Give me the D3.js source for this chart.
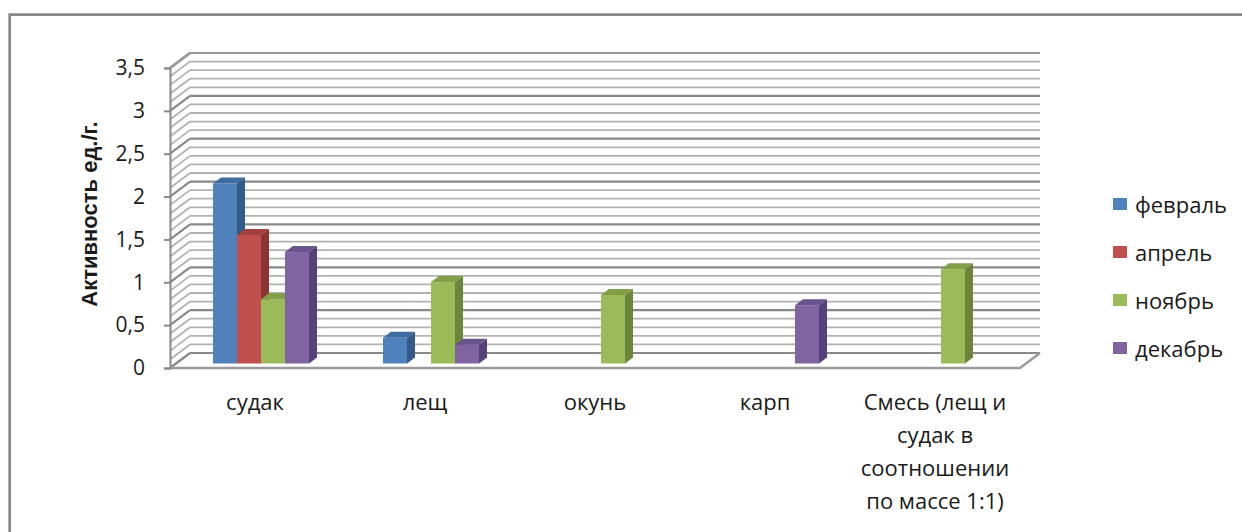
<!DOCTYPE html>
<html>
<head>
<meta charset="utf-8">
<script src="https://cdn.jsdelivr.net/npm/d3@7/dist/d3.min.js"></script>
<style>
  html, body { margin: 0; padding: 0; background: #fff; }
  svg { display: block; font-family: "Open Sans", "Noto Sans", sans-serif; }
</style>
</head>
<body>
<svg id="chart" width="1242" height="532"></svg>
<script>
// ---------- data ----------
const categories = ["судак", "лещ", "окунь", "карп", "Смесь (лещ и судак в соотношении по массе 1:1)"];
const seriesNames = ["февраль", "апрель", "ноябрь", "декабрь"];
const february = [2.1, 0.3, 0, 0, 0];
const april    = [1.5, 0, 0, 0, 0];
const november = [0.75, 0.95, 0.8, 0, 1.1];
const december = [1.3, 0.22, 0, 0.68, 0];
const yTicks = [0, 0.5, 1, 1.5, 2, 2.5, 3, 3.5];
const yTitle = "Активность ед./г.";

const seriesValues = [february, april, november, december];
const frontColors = ["#4F81BD", "#C0504D", "#9BBB59", "#8064A2"];
const sideColors  = ["#335A89", "#8A3533", "#6B853A", "#56427A"];
const topColors   = ["#3E6BA0", "#A2403E", "#809F47", "#6A528C"];

// ---------- geometry ----------
const svg = d3.select("#chart");
const X0 = 170, X1 = 1020, Y0 = 368, Y1 = 68;
const DX = 20, DY = -15;           // wall depth
const BDX = 6, BDY = -4.5;         // bar front face depth offset
const SDX = 8, SDY = -6;           // bar depth

const x = d3.scaleBand().domain(categories).range([X0, X1]).paddingInner(0).paddingOuter(0);
const groupW = 96;
const xi = d3.scaleBand().domain(seriesNames).range([0, groupW]);
const y = d3.scaleLinear().domain([0, 3.5]).range([Y0, Y1]);
const yBack = v => y(v) + DY;

// border
svg.append("path")
  .attr("d", "M9.7,532 V14.7 H1242")
  .attr("fill", "none").attr("stroke", "#878787").attr("stroke-width", 2.7);

// gridlines (minor every 0.1, major every 0.5)
const gridVals = d3.range(0, 36).map(k => k / 10);
const grid = svg.append("g");
gridVals.forEach((v, k) => {
  const major = k % 5 === 0;
  const col = major ? "#888888" : "#b2b2b2";
  const w = major ? 2.2 : 1.8;
  grid.append("line")
    .attr("x1", X0 + DX).attr("x2", X1 + DX)
    .attr("y1", yBack(v)).attr("y2", yBack(v))
    .attr("stroke", col).attr("stroke-width", w);
  grid.append("line")
    .attr("x1", X0).attr("y1", y(v))
    .attr("x2", X0 + DX).attr("y2", yBack(v))
    .attr("stroke", col).attr("stroke-width", w);
});
// top edge of walls
grid.append("line")
  .attr("x1", X0 + DX).attr("x2", X1 + DX)
  .attr("y1", yBack(3.5)).attr("y2", yBack(3.5))
  .attr("stroke", "#999999").attr("stroke-width", 2.2);
grid.append("line")
  .attr("x1", X0).attr("y1", y(3.5)).attr("x2", X0 + DX).attr("y2", yBack(3.5))
  .attr("stroke", "#999999").attr("stroke-width", 2.2);

// floor
svg.append("path")
  .attr("d", `M${X0},${y(0)} H${X1} L${X1 + DX},${yBack(0)}`)
  .attr("fill", "none").attr("stroke", "#9a9a9a").attr("stroke-width", 2.5);

// y axis
const yAxis = d3.axisLeft(y).tickValues(yTicks).tickSize(6).tickPadding(19)
  .tickFormat(d => String(d).replace(".", ","));
const ga = svg.append("g").attr("transform", `translate(${X0},0)`).call(yAxis);
ga.select(".domain").attr("stroke", "#8a8a8a").attr("stroke-width", 2);
ga.selectAll(".tick line").attr("stroke", "#8a8a8a").attr("stroke-width", 2);
ga.selectAll(".tick text").attr("font-size", 21).attr("fill", "#1a1a1a")
  .attr("font-family", "'Open Sans', sans-serif");

// bars
const bars = svg.append("g");
categories.forEach((c, ci) => {
  seriesNames.forEach((s, si) => {
    const v = seriesValues[si][ci];
    if (!v) return;
    const bx = x(c) + (x.bandwidth() - groupW) / 2 + xi(s) + BDX;
    const bw = xi.bandwidth();
    const yb = y(0) + BDY;
    const yt = y(v) + BDY;
    bars.append("rect")
      .attr("x", bx).attr("y", yt).attr("width", bw).attr("height", yb - yt)
      .attr("fill", frontColors[si]);
    bars.append("path")
      .attr("d", `M${bx + bw},${yb} L${bx + bw + SDX},${yb + SDY} L${bx + bw + SDX},${yt + SDY} L${bx + bw},${yt} Z`)
      .attr("fill", sideColors[si]);
    bars.append("path")
      .attr("d", `M${bx},${yt} L${bx + SDX},${yt + SDY} L${bx + bw + SDX},${yt + SDY} L${bx + bw},${yt} Z`)
      .attr("fill", topColors[si]);
  });
});

// category labels (wrapped)
const labels = svg.append("g").attr("font-size", 22).attr("fill", "#1a1a1a").attr("text-anchor", "middle");
categories.forEach(c => {
  const t = labels.append("text").attr("x", x(c) + x.bandwidth() / 2).attr("y", 409.5);
  const words = c.split(" ");
  let line = [];
  let tspan = t.append("tspan").attr("x", x(c) + x.bandwidth() / 2).attr("dy", 0);
  words.forEach(wd => {
    line.push(wd);
    tspan.text(line.join(" "));
    if (tspan.node().getComputedTextLength() > 150 && line.length > 1) {
      line.pop();
      tspan.text(line.join(" "));
      line = [wd];
      tspan = t.append("tspan").attr("x", x(c) + x.bandwidth() / 2).attr("dy", 33).text(wd);
    }
  });
});

// y title
svg.append("text")
  .attr("transform", "translate(97,214) rotate(-90)")
  .attr("text-anchor", "middle")
  .attr("font-family", "'Liberation Sans', Arial, sans-serif")
  .attr("font-size", 22).attr("font-weight", "bold").attr("fill", "#1a1a1a")
  .text(yTitle);

// legend
const lg = svg.append("g");
seriesNames.forEach((s, i) => {
  const cy = 204 + i * 48;
  lg.append("rect").attr("x", 1113).attr("y", cy - 6).attr("width", 14).attr("height", 12)
    .attr("fill", frontColors[i]);
  lg.append("text").attr("x", 1135).attr("y", cy + 9).attr("font-size", 22).attr("fill", "#1a1a1a")
    .text(s);
});
</script>
</body>
</html>
